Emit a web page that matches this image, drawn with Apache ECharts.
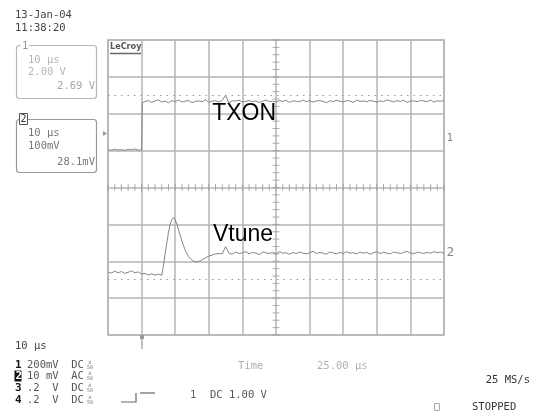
<!DOCTYPE html>
<html>
<head>
<meta charset="utf-8">
<script src="https://cdn.jsdelivr.net/npm/echarts@6/dist/echarts.min.js"></script>
<style>
  html, body { margin: 0; padding: 0; background: #fff; }
  #scope { width: 538px; height: 414px; }
</style>
</head>
<body>
<div id="scope"></div>
<script>
// Screen: 10 divisions of 10 µs across, 8 divisions vertically.
const timeRangeUs = [0, 100];        // 10 µs/div
const ch1RangeV = [-10, 6];          // channel 1: 2.00 V/div
const ch2RangeMv = [-400, 400];      // channel 2: 100 mV/div

// Channel 1 (TXON): low before the enable edge, ~2.69 V afterwards.
const txonLowTimeUs = [0, 1, 2, 3, 4, 5, 6, 7, 8, 9, 10];
const txonLowV = [0.05, 0.02, 0.08, 0.03, 0.06, 0.01, 0.07, 0.04, 0.09, 0.02, 0.05];
const txonEdgeTimeUs = [10.2];
const txonEdgeV = [2.60];
const txonHighStartUs = 11;          // then one sample per µs up to 100 µs
const txonHighV = [
  2.66, 2.72, 2.61, 2.70, 2.75, 2.64, 2.68, 2.59, 2.71, 2.66,
  2.74, 2.63, 2.69, 2.72, 2.60, 2.67, 2.70, 2.65, 2.76, 2.62,
  2.68, 2.71, 2.64, 2.73, 3.00, 2.58, 2.70, 2.69, 2.74, 2.63,
  2.67, 2.72, 2.65, 2.70, 2.61, 2.68, 2.75, 2.66, 2.69, 2.64,
  2.71, 2.67, 2.73, 2.62, 2.70, 2.68, 2.65, 2.74, 2.66, 2.71,
  2.63, 2.69, 2.72, 2.67, 2.60, 2.70, 2.66, 2.73, 2.68, 2.64,
  2.71, 2.69, 2.62, 2.74, 2.67, 2.70, 2.65, 2.72, 2.68, 2.63,
  2.70, 2.66, 2.75, 2.69, 2.64, 2.71, 2.67, 2.73, 2.62, 2.68,
  2.70, 2.65, 2.72, 2.69, 2.66, 2.74, 2.63, 2.70, 2.68, 2.71
];

// Channel 2 (Vtune): settled level, overshoot on enable, new settled level.
const vtuneBaseTimeUs = [0, 1, 2, 3, 4, 5, 6, 7, 8, 9, 10, 11, 12, 13, 14, 15];
const vtuneBaseMv = [-229, -232, -227, -231, -228, -233, -230, -226, -231, -229,
                     -235, -233, -237, -234, -238, -235];
const vtuneTransientTimeUs = [16, 16.5, 17, 17.5, 18, 18.5, 19, 19.5, 20, 20.5,
                              21, 21.5, 22, 22.5, 23, 23.5, 24, 24.5, 25, 25.5,
                              26, 26.5, 27, 27.5, 28, 29, 30, 31, 32, 33];
const vtuneTransientMv = [-238, -212, -180, -150, -122, -100, -87, -81, -87, -100,
                          -115, -130, -145, -158, -170, -180, -187, -193, -197, -200,
                          -201, -202, -201, -199, -196, -191, -186, -183, -180, -179];
const vtuneSettledStartUs = 34;      // then one sample per µs up to 100 µs
const vtuneSettledMv = [
  -180, -160, -178, -181, -175, -179, -177, -174, -180, -176,
  -178, -182, -175, -177, -179, -176, -180, -174, -178, -177,
  -181, -176, -179, -175, -178, -180, -177, -173, -179, -176,
  -178, -181, -175, -177, -180, -176, -179, -174, -178, -177,
  -180, -175, -178, -176, -181, -177, -174, -179, -176, -178,
  -180, -175, -177, -179, -176, -173, -178, -180, -175, -177,
  -179, -176, -178, -174, -177, -175, -178
];

// Dotted reference levels on each channel.
const ch1RefV = 3.0;
const ch2RefMv = -250;

// Trace labels
const traceNames = ['TXON', 'Vtune'];
const txonLabelAt = [40.5, 2.0];
const vtuneLabelAt = [40.2, -129];

function uniformTimes(start, count) {
  const out = [];
  for (let i = 0; i < count; i++) out.push(start + i);
  return out;
}
function pairs(times, values) {
  return times.map((t, i) => [t, values[i]]);
}

const txonData = pairs(
  txonLowTimeUs.concat(txonEdgeTimeUs, uniformTimes(txonHighStartUs, txonHighV.length)),
  txonLowV.concat(txonEdgeV, txonHighV)
);
const vtuneData = pairs(
  vtuneBaseTimeUs.concat(vtuneTransientTimeUs, uniformTimes(vtuneSettledStartUs, vtuneSettledMv.length)),
  vtuneBaseMv.concat(vtuneTransientMv, vtuneSettledMv)
);

// Graticule sub-division ticks along the two centre lines (5 per division).
const ch1Center = (ch1RangeV[0] + ch1RangeV[1]) / 2;
const tCenter = (timeRangeUs[0] + timeRangeUs[1]) / 2;
const hTicks = [];
for (let i = 0; i <= 50; i++) hTicks.push([timeRangeUs[0] + i * 2, ch1Center]);
const vTicks = [];
for (let i = 0; i <= 40; i++) vTicks.push([tCenter, ch1RangeV[0] + i * 0.4]);

const GRID = { left: 108, top: 40, width: 336, height: 295 };
const gridColor = '#b4b4b4';
const traceColor = '#858585';
const MONO = '"DejaVu Sans Mono", "Liberation Mono", monospace';

const chart = echarts.init(document.getElementById('scope'), null, { renderer: 'canvas' });

function txt(x, y, text, opts) {
  opts = opts || {};
  return {
    type: 'text', x: x, y: y, z: 50,
    style: {
      text: text,
      font: (opts.weight || 'normal') + ' ' + (opts.size || 10.5) + 'px ' + (opts.family || MONO),
      fill: opts.color || '#444',
      align: opts.align || 'left',
      verticalAlign: 'middle',
      backgroundColor: opts.bg,
      padding: opts.pad
    }
  };
}

const graphics = [
  // date / time stamp
  txt(15, 15, '13-Jan-04', { color: '#444' }),
  txt(15, 28, '11:38:20', { color: '#444' }),

  // channel 1 info box
  { type: 'rect', z: 40, shape: { x: 16.5, y: 45.5, width: 80, height: 53, r: 3 },
    style: { fill: 'none', stroke: '#b8b8b8', lineWidth: 1.2 } },
  txt(21, 46, '1', { color: '#999', bg: '#fff', pad: [0, 1] }),
  txt(28, 60, '10 µs', { color: '#b5b5b5' }),
  txt(28, 72, '2.00 V', { color: '#b5b5b5' }),
  txt(95, 86, '2.69 V', { color: '#a5a5a5', align: 'right' }),

  // channel 2 info box
  { type: 'rect', z: 40, shape: { x: 16.5, y: 119.5, width: 80, height: 53, r: 3 },
    style: { fill: 'none', stroke: '#999', lineWidth: 1.2 } },
  { type: 'rect', z: 45, shape: { x: 19.5, y: 113.5, width: 8, height: 11 },
    style: { fill: '#fff', stroke: '#555', lineWidth: 1 } },
  txt(20.5, 119.5, '2', { color: '#333', size: 10 }),
  txt(28, 133, '10 µs', { color: '#777' }),
  txt(28, 146, '100mV', { color: '#777' }),
  txt(95, 162, '28.1mV', { color: '#777', align: 'right' }),

  // instrument logo
  txt(110, 47, 'LeCroy', { color: '#555', size: 9, weight: 'bold', family: '"DejaVu Sans Condensed", "DejaVu Sans", sans-serif' }),
  { type: 'line', z: 50, shape: { x1: 110, y1: 53.5, x2: 141, y2: 53.5 }, style: { stroke: '#666', lineWidth: 1.5 } },

  // ground marker on the left edge
  { type: 'polygon', z: 50, shape: { points: [[103, 131], [107, 133.5], [103, 136]] }, style: { fill: '#999' } },

  // trace level markers on the right edge
  txt(446.5, 138, '1', { color: '#888', size: 11 }),
  txt(446.5, 253, '2', { color: '#888', size: 13 }),

  // trigger position marker below the graticule
  { type: 'rect', z: 50, shape: { x: 140, y: 335, width: 4, height: 4 }, style: { fill: '#999' } },
  { type: 'line', z: 50, shape: { x1: 142, y1: 335, x2: 142, y2: 349 }, style: { stroke: '#999', lineWidth: 1.2 } },

  // timebase / channel settings
  txt(15, 346, '10 µs', { color: '#444' }),
  txt(15, 365, '1', { color: '#111', weight: 'bold', size: 11 }),
  txt(27, 365, '200mV  DC', { color: '#555' }),
  { type: 'rect', z: 45, shape: { x: 14.5, y: 370.5, width: 7, height: 11 }, style: { fill: '#111' } },
  txt(15.5, 376, '2', { color: '#fff', weight: 'bold', size: 11 }),
  txt(27, 376, '10 mV  AC', { color: '#555' }),
  txt(15, 388, '3', { color: '#111', weight: 'bold', size: 11 }),
  txt(27, 388, '.2  V  DC', { color: '#555' }),
  txt(15, 400, '4', { color: '#111', weight: 'bold', size: 11 }),
  txt(27, 400, '.2  V  DC', { color: '#555' }),
  txt(88, 362, 'x', { color: '#777', size: 6 }), txt(87, 368, '50', { color: '#777', size: 5 }),
  txt(88, 373, 'x', { color: '#777', size: 6 }), txt(87, 379, '50', { color: '#777', size: 5 }),
  txt(88, 385, 'x', { color: '#777', size: 6 }), txt(87, 391, '50', { color: '#777', size: 5 }),
  txt(88, 397, 'x', { color: '#777', size: 6 }), txt(87, 403, '50', { color: '#777', size: 5 }),

  txt(238, 366, 'Time', { color: '#b0b0b0' }),
  txt(317, 366, '25.00 µs', { color: '#b0b0b0' }),

  // trigger setup
  { type: 'polyline', z: 50, shape: { points: [[121, 402], [136, 402], [136, 393]] },
    style: { stroke: '#666', lineWidth: 1.2, fill: 'none' } },
  { type: 'line', z: 50, shape: { x1: 140, y1: 393, x2: 155, y2: 393 }, style: { stroke: '#666', lineWidth: 1.2 } },
  txt(190, 395, '1', { color: '#666' }),
  txt(210, 395, 'DC 1.00 V', { color: '#555' }),

  // acquisition status
  txt(530, 380, '25 MS/s', { color: '#333', align: 'right' }),
  { type: 'rect', z: 50, shape: { x: 434.5, y: 403.5, width: 5, height: 7 }, style: { fill: 'none', stroke: '#aaa', lineWidth: 1 } },
  txt(472, 407, 'STOPPED', { color: '#333', size: 10.5 })
];

const option = {
  animation: false,
  backgroundColor: '#fff',
  grid: Object.assign({ show: true, borderColor: gridColor, borderWidth: 1.5, backgroundColor: 'transparent' }, GRID),
  xAxis: {
    type: 'value', min: timeRangeUs[0], max: timeRangeUs[1], interval: 10,
    axisLine: { show: false }, axisTick: { show: false }, axisLabel: { show: false },
    splitLine: { show: true, lineStyle: { color: gridColor, width: 1.5 } }
  },
  yAxis: [
    {
      type: 'value', min: ch1RangeV[0], max: ch1RangeV[1], interval: 2,
      axisLine: { show: false }, axisTick: { show: false }, axisLabel: { show: false },
      splitLine: { show: true, lineStyle: { color: gridColor, width: 1.5 } }
    },
    {
      type: 'value', min: ch2RangeMv[0], max: ch2RangeMv[1], interval: 100,
      axisLine: { show: false }, axisTick: { show: false }, axisLabel: { show: false },
      splitLine: { show: false }
    }
  ],
  graphic: graphics,
  series: [
    {
      name: 'hticks', type: 'scatter', yAxisIndex: 0, data: hTicks, silent: true,
      symbol: 'rect', symbolSize: [1, 7], itemStyle: { color: '#9a9a9a' }, z: 1
    },
    {
      name: 'vticks', type: 'scatter', yAxisIndex: 0, data: vTicks, silent: true,
      symbol: 'rect', symbolSize: [7, 1], itemStyle: { color: '#9a9a9a' }, z: 1
    },
    {
      name: traceNames[0], type: 'line', yAxisIndex: 0, data: txonData,
      showSymbol: false, silent: true, z: 5,
      lineStyle: { color: traceColor, width: 1 },
      markLine: {
        silent: true, symbol: 'none', label: { show: false },
        lineStyle: { color: '#999', type: [1.5, 5], width: 1 },
        data: [{ yAxis: ch1RefV }]
      },
      markPoint: {
        silent: true, symbol: 'rect', symbolSize: 1, itemStyle: { color: 'rgba(0,0,0,0)' },
        label: { show: true, position: 'inside', formatter: traceNames[0], color: '#000',
                 fontSize: 23, fontFamily: '"Liberation Sans", Arial, sans-serif' },
        data: [{ coord: txonLabelAt }]
      }
    },
    {
      name: traceNames[1], type: 'line', yAxisIndex: 1, data: vtuneData,
      showSymbol: false, silent: true, z: 5,
      lineStyle: { color: traceColor, width: 1 },
      markLine: {
        silent: true, symbol: 'none', label: { show: false },
        lineStyle: { color: '#999', type: [1.5, 5], width: 1 },
        data: [{ yAxis: ch2RefMv }]
      },
      markPoint: {
        silent: true, symbol: 'rect', symbolSize: 1, itemStyle: { color: 'rgba(0,0,0,0)' },
        label: { show: true, position: 'inside', formatter: traceNames[1], color: '#000',
                 fontSize: 23, fontFamily: '"Liberation Sans", Arial, sans-serif' },
        data: [{ coord: vtuneLabelAt }]
      }
    }
  ]
};

chart.setOption(option);
</script>
</body>
</html>
